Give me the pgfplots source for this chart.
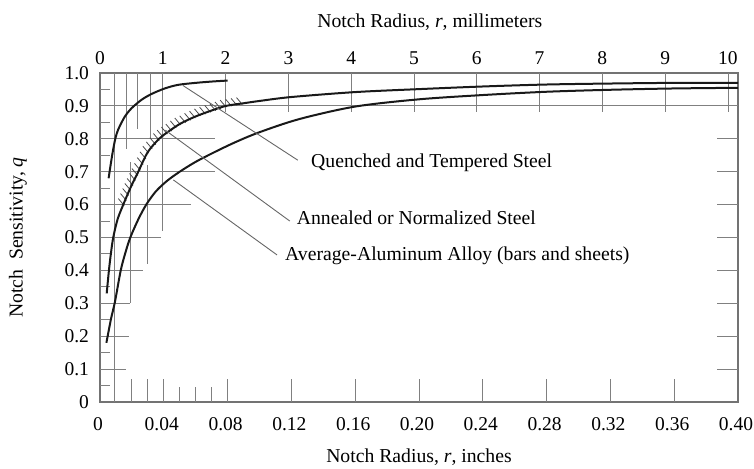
\documentclass[border=0pt]{standalone}
\usepackage{fontspec}
\setmainfont{Liberation Serif}
\usepackage{pgfplots}
\pgfplotsset{compat=1.18}

\newcommand{\lblfont}{\fontsize{19.7}{22}\selectfont}
\newcommand{\tickfont}{\fontsize{19.5}{22}\selectfont}

\pgfplotsset{
  gridseg/.style={black!50, line width=0.9pt, forget plot},
  hatch/.style={black!70, line width=0.8pt, forget plot},
  curve/.style={black!90, line width=2pt, smooth, forget plot},
  leader/.style={black!60, line width=0.9pt, forget plot},
}
% one straight rule of the chart grid
\newcommand{\gseg}[4]{\addplot[gridseg] coordinates {(#1,#2) (#3,#4)};}
% one stroke of the scatter band
\newcommand{\hseg}[4]{\addplot[hatch] coordinates {(#1,#2) (#3,#4)};}

\begin{document}
\begin{tikzpicture}
\useasboundingbox (-100pt,-66pt) rectangle (654pt,402pt);

% millimetre scale along the top edge
\begin{axis}[
  at={(0,0)}, anchor=south west,
  scale only axis, width=638pt, height=329pt,
  xmin=0, xmax=10.16, ymin=0, ymax=1,
  axis x line*=top, axis y line=none,
  axis line style={draw=none},
  xtick={0,1,2,3,4,5,6,7,8,9,10},
  major tick length=0pt,
  /pgf/number format/assume math mode=true,
  tick label style={font=\tickfont},
  xticklabel style={yshift=5pt},
]
\addplot[draw=none, forget plot] coordinates {(0,0) (10,1)};
\end{axis}

% main chart, radius in inches
\begin{axis}[
  at={(0,0)}, anchor=south west,
  scale only axis, width=638pt, height=329pt,
  xmin=0, xmax=0.40, ymin=0, ymax=1,
  clip=false, no marks,
  axis line style={black!55, line width=1.1pt},
  xtick={0,0.04,0.08,0.12,0.16,0.20,0.24,0.28,0.32,0.36,0.40},
  xticklabels={0,0.04,0.08,0.12,0.16,0.20,0.24,0.28,0.32,0.36,0.40},
  ytick={0,0.1,0.2,0.3,0.4,0.5,0.6,0.7,0.8,0.9,1.0},
  yticklabels={0,0.1,0.2,0.3,0.4,0.5,0.6,0.7,0.8,0.9,1.0},
  xticklabel pos=lower, yticklabel pos=left,
  major tick length=0pt,
  /pgf/number format/assume math mode=true,
  tick label style={font=\tickfont},
  xticklabel style={yshift=-12pt, xshift=-2pt},
  yticklabel style={xshift=-7.5pt},
]

% horizontal rules
\gseg{0}{0.9}{0.40}{0.9}
\gseg{0}{0.8}{0.072}{0.8}
\gseg{0}{0.7}{0.072}{0.7}
\gseg{0}{0.6}{0.057}{0.6}
\gseg{0}{0.5}{0.038}{0.5}
\gseg{0}{0.4}{0.027}{0.4}
\gseg{0}{0.3}{0.019}{0.3}
\gseg{0}{0.2}{0.018}{0.2}
\gseg{0}{0.1}{0.016}{0.1}
% short ticks at the half tenths, left edge
\gseg{0}{0.95}{0.006}{0.95}
\gseg{0}{0.85}{0.006}{0.85}
\gseg{0}{0.75}{0.006}{0.75}
\gseg{0}{0.65}{0.006}{0.65}
\gseg{0}{0.55}{0.006}{0.55}
\gseg{0}{0.45}{0.006}{0.45}
\gseg{0}{0.35}{0.006}{0.35}
\gseg{0}{0.25}{0.006}{0.25}
\gseg{0}{0.15}{0.006}{0.15}
\gseg{0}{0.05}{0.006}{0.05}
% short ticks, right edge
\gseg{0.387}{0.8}{0.40}{0.8}
\gseg{0.387}{0.7}{0.40}{0.7}
\gseg{0.387}{0.6}{0.40}{0.6}
\gseg{0.387}{0.5}{0.40}{0.5}
\gseg{0.387}{0.4}{0.40}{0.4}
\gseg{0.387}{0.3}{0.40}{0.3}
\gseg{0.387}{0.2}{0.40}{0.2}
\gseg{0.387}{0.1}{0.40}{0.1}
% vertical rules: fractions of a millimetre and small inch steps
\gseg{0.009}{1}{0.009}{0}
\gseg{0.0165}{1}{0.0165}{0.77}
\gseg{0.0236}{1}{0.0236}{0.83}
\gseg{0.0315}{1}{0.0315}{0.80}
\gseg{0.0394}{1}{0.0394}{0.52}
\gseg{0.019}{0.73}{0.019}{0.30}
\gseg{0.030}{0.72}{0.030}{0.42}
% whole millimetres, upper band
\gseg{0.07874}{1}{0.07874}{0.88}
\gseg{0.11811}{1}{0.11811}{0.88}
\gseg{0.15748}{1}{0.15748}{0.88}
\gseg{0.19685}{1}{0.19685}{0.88}
\gseg{0.23622}{1}{0.23622}{0.88}
\gseg{0.27559}{1}{0.27559}{0.88}
\gseg{0.31496}{1}{0.31496}{0.88}
\gseg{0.35433}{1}{0.35433}{0.88}
\gseg{0.39370}{1}{0.39370}{0.88}
% inch ticks along the bottom edge
\gseg{0.02}{0}{0.02}{0.07}
\gseg{0.03}{0}{0.03}{0.07}
\gseg{0.04}{0}{0.04}{0.07}
\gseg{0.05}{0}{0.05}{0.045}
\gseg{0.06}{0}{0.06}{0.045}
\gseg{0.07}{0}{0.07}{0.045}
\gseg{0.08}{0}{0.08}{0.07}
\gseg{0.12}{0}{0.12}{0.07}
\gseg{0.16}{0}{0.16}{0.07}
\gseg{0.20}{0}{0.20}{0.07}
\gseg{0.24}{0}{0.24}{0.07}
\gseg{0.28}{0}{0.28}{0.07}
\gseg{0.32}{0}{0.32}{0.07}
\gseg{0.36}{0}{0.36}{0.07}

% scatter band along the annealed-steel curve
\hseg{0.01150}{0.6182}{0.01520}{0.5970}
\hseg{0.01285}{0.6336}{0.01655}{0.6124}
\hseg{0.01421}{0.6489}{0.01791}{0.6277}
\hseg{0.01556}{0.6643}{0.01926}{0.6431}
\hseg{0.01702}{0.6794}{0.02072}{0.6582}
\hseg{0.01853}{0.6945}{0.02223}{0.6733}
\hseg{0.02003}{0.7095}{0.02373}{0.6883}
\hseg{0.02163}{0.7253}{0.02533}{0.7041}
\hseg{0.02337}{0.7428}{0.02707}{0.7216}
\hseg{0.02510}{0.7602}{0.02880}{0.7390}
\hseg{0.02684}{0.7777}{0.03054}{0.7565}
\hseg{0.02905}{0.7905}{0.03275}{0.7693}
\hseg{0.03128}{0.8032}{0.03498}{0.7820}
\hseg{0.03351}{0.8160}{0.03721}{0.7948}
\hseg{0.03588}{0.8261}{0.03958}{0.8049}
\hseg{0.03851}{0.8358}{0.04221}{0.8146}
\hseg{0.04131}{0.8446}{0.04501}{0.8234}
\hseg{0.04410}{0.8544}{0.04780}{0.8332}
\hseg{0.04690}{0.8632}{0.05060}{0.8420}
\hseg{0.04997}{0.8699}{0.05367}{0.8487}
\hseg{0.05303}{0.8775}{0.05673}{0.8563}
\hseg{0.05610}{0.8842}{0.05980}{0.8630}
\hseg{0.05925}{0.8909}{0.06295}{0.8697}
\hseg{0.06244}{0.8963}{0.06614}{0.8751}
\hseg{0.06563}{0.9017}{0.06933}{0.8805}
\hseg{0.06886}{0.9065}{0.07256}{0.8853}
\hseg{0.07212}{0.9119}{0.07582}{0.8907}
\hseg{0.07538}{0.9173}{0.07908}{0.8961}
\hseg{0.07877}{0.9203}{0.08247}{0.8991}
\hseg{0.08218}{0.9228}{0.08588}{0.9016}
\hseg{0.08559}{0.9252}{0.08929}{0.9040}

% quenched and tempered steel
\addplot[curve] coordinates {
  (0.0054,0.68) (0.0068,0.725) (0.0082,0.766) (0.0096,0.80) (0.0113,0.827)
  (0.0155,0.867) (0.0196,0.892) (0.0259,0.918) (0.0322,0.936) (0.0406,0.953)
  (0.049,0.964) (0.06,0.970) (0.07,0.974) (0.08,0.977)
};
% annealed or normalized steel
\addplot[curve] coordinates {
  (0.0042,0.33) (0.0056,0.40) (0.0068,0.45) (0.0083,0.50) (0.011,0.555)
  (0.0146,0.60) (0.019,0.65) (0.024,0.70) (0.03,0.76) (0.037,0.80)
  (0.04,0.812) (0.05,0.845) (0.06,0.868) (0.07,0.886) (0.079,0.90)
  (0.09,0.908) (0.1,0.915) (0.12,0.927) (0.16,0.942) (0.2,0.951)
  (0.24,0.959) (0.28,0.965) (0.32,0.968) (0.36,0.970) (0.40,0.970)
};
% average aluminum alloy
\addplot[curve] coordinates {
  (0.004,0.18) (0.0048,0.20) (0.007,0.255) (0.0094,0.305) (0.013,0.40)
  (0.016,0.455) (0.019,0.50) (0.024,0.555) (0.029,0.60) (0.035,0.64)
  (0.042,0.672) (0.05,0.70) (0.06,0.73) (0.072,0.76) (0.085,0.79)
  (0.1,0.82) (0.125,0.86) (0.16,0.898) (0.2,0.92) (0.24,0.933)
  (0.28,0.943) (0.32,0.949) (0.36,0.953) (0.40,0.955)
};

% leaders to the curve names
\addplot[leader] coordinates {(0.052,0.962) (0.124,0.735)};
\addplot[leader] coordinates {(0.041,0.826) (0.119,0.55)};
\addplot[leader] coordinates {(0.046,0.675) (0.111,0.447)};

\node[anchor=west, inner sep=0pt, font=\lblfont] at (axis cs:0.1323,0.726) {Quenched and Tempered Steel};
\node[anchor=west, inner sep=0pt, font=\lblfont] at (axis cs:0.1233,0.560) {Annealed or Normalized Steel};
\node[anchor=west, inner sep=0pt, font=\lblfont] at (axis cs:0.1160,0.445) {Average-Aluminum Alloy (bars and sheets)};

% axis titles
\node[anchor=center, font=\lblfont] at (axis description cs:0.517,1.155) {Notch Radius, \textit{r}, millimeters};
\node[anchor=center, font=\lblfont] at (axis description cs:0.5,-0.167) {Notch Radius, \textit{r}, inches};
\node[anchor=center, rotate=90, font=\lblfont] at (axis description cs:-0.1285,0.5) {Notch\ \ Sensitivity, \textit{q}};
\end{axis}
\end{tikzpicture}
\end{document}
